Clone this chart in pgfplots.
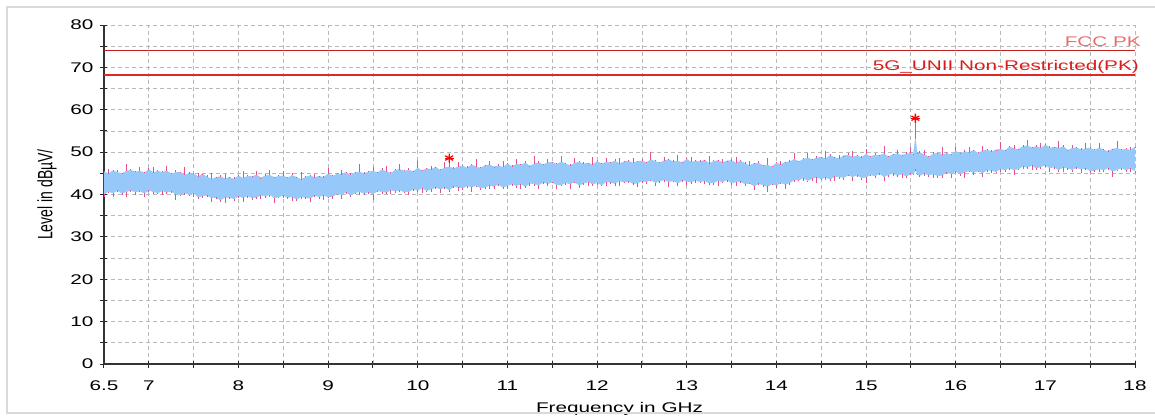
\documentclass[border=0pt]{standalone}
\usepackage{fontspec}
\setmainfont{Liberation Sans}
\usepackage{graphicx}
\usepackage{pgfplots}
\usepackage{pgfplotstable}
\pgfplotsset{compat=1.18}
\usepgfplotslibrary{fillbetween}

\definecolor{bandblue}{RGB}{150,200,250}
\definecolor{pkpink}{RGB}{228,80,140}
\definecolor{limred}{RGB}{222,40,40}
\definecolor{fcctxt}{RGB}{232,110,110}
\definecolor{unitxt}{RGB}{214,30,30}
\definecolor{gridgray}{RGB}{185,185,185}

\newcommand{\fs}{\fontsize{14}{16}\selectfont}
\newcommand{\sx}[1]{\scalebox{1.48}[1]{#1}}
\newcommand{\sy}[1]{\scalebox{1}[1.48]{#1}}

% trace envelopes: x (GHz), blue low/high, pink low/high (dBuV)
\pgfplotstableread{
x bl bh pl ph
6.50 40.1 45.3 39.5 45.6
6.55 40.7 44.9 40.4 46.1
6.60 40.4 45.6 39.5 45.8
6.65 41.0 45.2 40.6 45.7
6.70 40.3 44.9 39.8 45.0
6.75 40.7 45.5 39.4 47.3
6.80 41.0 45.7 40.7 46.0
6.85 40.6 45.3 40.0 45.5
6.90 40.9 45.5 40.5 46.4
6.95 40.3 45.1 39.3 45.2
7.00 41.0 45.9 40.5 46.3
7.05 40.7 45.1 40.1 46.5
7.10 40.4 45.5 40.1 45.7
7.15 40.9 45.2 40.0 45.5
7.20 40.5 45.6 40.1 46.8
7.25 40.8 44.8 40.3 45.0
7.30 40.1 45.2 38.8 45.7
7.35 40.0 45.2 39.7 45.3
7.40 40.4 44.6 39.8 46.4
7.45 40.0 44.9 39.6 45.2
7.50 40.4 44.9 39.4 45.1
7.55 39.4 44.2 38.9 45.1
7.60 39.7 44.8 39.1 44.9
7.65 39.8 44.1 39.5 44.5
7.70 39.2 43.6 38.3 45.0
7.75 39.3 44.0 38.9 44.2
7.80 38.7 44.2 38.2 44.5
7.85 39.4 43.7 38.1 44.9
7.90 39.3 44.0 39.0 44.2
7.95 39.0 43.6 38.4 44.1
8.00 39.6 44.4 39.2 44.5
8.05 39.3 43.8 38.3 45.6
8.10 39.7 44.3 39.2 44.6
8.15 39.2 44.2 38.6 44.4
8.20 39.3 44.6 39.0 45.5
8.25 39.9 43.9 39.0 44.0
8.30 39.6 44.4 39.2 44.8
8.35 40.0 44.5 39.5 45.9
8.40 39.2 44.0 37.9 44.2
8.45 39.5 44.3 39.2 44.6
8.50 39.8 44.4 39.2 45.6
8.55 39.3 43.9 38.9 44.1
8.60 39.5 44.5 38.5 45.0
8.65 38.9 44.0 38.4 44.1
8.70 39.5 43.5 38.9 45.3
8.75 39.3 44.1 39.0 44.4
8.80 39.1 44.4 38.2 44.6
8.85 39.8 44.0 39.4 44.9
8.90 39.5 44.3 39.0 44.4
8.95 39.9 44.0 38.6 44.4
9.00 39.4 44.9 39.1 46.3
9.05 39.6 44.3 39.0 44.5
9.10 40.2 44.8 39.8 45.1
9.15 40.0 44.7 39.0 45.9
9.20 40.6 45.2 40.1 45.4
9.25 39.9 44.5 39.3 45.0
9.30 40.4 45.1 40.1 45.2
9.35 40.7 45.3 39.8 47.1
9.40 40.3 44.9 39.9 45.2
9.45 40.6 45.3 40.1 45.5
9.50 40.1 45.5 38.8 46.4
9.55 40.9 45.1 40.6 45.2
9.60 40.7 45.8 40.1 46.2
9.65 40.5 45.4 40.1 46.8
9.70 41.1 45.0 40.1 45.2
9.75 40.8 45.7 40.3 46.0
9.80 41.1 45.9 40.5 47.1
9.85 40.6 45.5 40.3 45.7
9.90 40.7 45.7 39.8 46.2
9.95 41.3 45.4 40.9 45.5
10.00 41.0 46.2 40.5 48.0
10.05 41.6 45.6 40.3 45.9
10.10 40.9 46.1 40.6 46.3
10.15 41.3 45.9 40.7 46.8
10.20 41.7 46.4 41.3 46.5
10.25 41.3 45.7 40.3 46.1
10.30 41.7 46.3 41.2 47.7
10.35 41.1 46.5 40.5 47.5
10.40 41.9 46.1 41.6 46.4
10.45 41.7 46.5 40.8 47.7
10.50 41.5 46.7 41.1 46.9
10.55 42.1 46.2 41.6 46.7
10.60 41.8 47.0 40.5 47.1
10.65 42.1 46.5 41.8 48.3
10.70 41.6 46.2 41.0 46.5
10.75 41.7 46.8 41.3 47.0
10.80 42.2 47.0 41.2 47.9
10.85 41.9 46.5 41.4 46.6
10.90 42.5 46.8 41.9 47.2
10.95 41.7 46.4 41.4 47.8
11.00 42.1 47.2 41.2 47.4
11.05 42.5 46.6 42.1 46.9
11.10 42.1 47.1 41.6 48.3
11.15 42.5 47.0 41.2 47.2
11.20 41.9 47.4 41.6 47.9
11.25 42.7 46.7 42.1 46.8
11.30 42.5 47.2 42.1 49.0
11.35 42.3 47.5 41.3 47.8
11.40 42.9 47.0 42.4 47.2
11.45 42.6 47.5 42.0 48.4
11.50 42.9 47.6 42.6 47.7
11.55 42.3 47.1 41.4 47.5
11.60 42.3 47.7 41.9 49.1
11.65 42.8 47.2 42.3 47.4
11.70 42.5 46.8 41.2 47.1
11.75 43.0 47.4 42.7 48.6
11.80 42.2 47.6 41.6 47.8
11.85 42.7 47.2 42.3 47.7
11.90 43.0 47.4 42.0 47.5
11.95 42.5 47.0 42.0 48.8
12.00 42.8 47.8 42.2 48.1
12.05 42.3 47.2 42.0 47.4
12.10 43.0 47.6 42.1 48.5
12.15 42.9 47.5 42.5 47.6
12.20 42.6 47.9 42.1 48.3
12.25 43.3 47.2 42.0 48.6
12.30 42.9 47.7 42.6 47.9
12.35 43.2 47.9 42.6 48.2
12.40 42.6 47.4 42.2 48.6
12.45 42.7 47.8 41.7 48.0
12.50 43.2 47.9 42.7 48.4
12.55 43.0 47.5 42.4 47.6
12.60 43.5 48.2 43.2 50.0
12.65 42.8 47.8 41.9 48.1
12.70 43.2 47.4 42.8 47.6
12.75 43.5 48.0 43.0 48.9
12.80 43.0 48.2 41.7 48.3
12.85 43.3 47.7 43.0 48.1
12.90 42.7 47.9 42.1 49.3
12.95 43.4 47.5 43.0 47.7
13.00 43.2 48.3 42.2 48.6
13.05 42.9 47.6 42.4 48.8
13.10 43.4 47.9 42.8 48.1
13.15 43.0 47.7 42.7 48.2
13.20 43.3 48.1 42.4 48.2
13.25 42.7 47.3 42.3 49.1
13.30 42.8 47.8 42.3 48.1
13.35 43.3 48.0 42.0 48.2
13.40 43.0 47.5 42.7 48.4
13.45 43.5 47.9 42.9 48.0
13.50 42.7 48.0 42.3 48.4
13.55 43.0 47.4 42.0 48.8
13.60 43.1 47.9 42.6 48.1
13.65 42.5 47.3 41.9 47.6
13.70 42.7 46.8 42.4 48.0
13.75 42.0 47.3 41.1 47.5
13.80 42.6 47.4 42.2 47.9
13.85 42.3 46.8 41.8 46.9
13.90 41.9 46.9 40.6 48.7
13.95 42.5 46.5 42.2 46.8
14.00 42.2 47.4 41.6 47.6
14.05 42.8 47.0 42.4 47.9
14.10 42.4 47.6 41.4 47.7
14.15 42.8 47.7 42.3 48.1
14.20 43.5 48.3 42.9 49.7
14.25 43.4 47.7 43.1 47.9
14.30 44.0 48.3 43.1 48.6
14.35 43.3 48.6 42.9 49.8
14.40 43.8 48.2 43.3 48.4
14.45 44.1 48.6 42.8 49.1
14.50 43.7 48.8 43.4 48.9
14.55 44.1 48.4 43.5 50.2
14.60 43.6 49.2 43.2 49.5
14.65 44.3 48.7 43.3 48.9
14.70 44.2 48.4 43.7 49.3
14.75 44.0 49.1 43.4 49.2
14.80 44.6 49.3 44.3 49.7
14.85 44.2 48.8 43.3 50.2
14.90 44.6 49.1 44.2 49.3
14.95 44.0 48.7 43.5 49.0
15.00 44.1 49.5 42.8 50.7
15.05 44.7 48.9 44.4 49.1
15.10 44.4 49.3 43.8 49.8
15.15 45.0 49.2 44.6 49.3
15.20 44.2 49.6 43.2 51.4
15.25 44.7 48.9 44.2 49.2
15.30 45.0 49.4 44.4 49.6
15.35 44.5 49.6 44.2 50.5
15.40 44.9 49.2 44.0 49.3
15.45 44.3 49.6 43.9 50.0
15.50 45.0 49.7 44.5 51.1
15.53 44.8 49.5 44.5 49.6
15.55 46.0 53.0 45.6 57.8
15.57 44.9 49.6 44.6 49.8
15.60 44.5 49.9 44.2 50.2
15.65 45.0 49.3 44.4 50.5
15.70 44.6 48.9 44.2 49.1
15.75 44.9 49.5 43.9 50.0
15.80 44.4 49.8 43.9 49.9
15.85 44.6 49.4 44.0 51.2
15.90 45.2 49.7 44.9 50.0
15.95 44.9 49.3 44.0 49.5
16.00 45.5 50.2 45.1 51.1
16.05 44.8 49.6 44.3 49.7
16.10 45.3 50.1 44.0 50.5
16.15 45.6 49.9 45.3 51.3
16.20 45.2 50.4 44.6 50.6
16.25 45.6 49.7 45.2 50.0
16.30 45.1 50.3 44.1 51.5
16.35 45.8 50.5 45.3 50.7
16.40 45.7 50.1 45.1 50.6
16.45 45.4 50.5 45.1 50.6
16.50 46.1 50.7 45.2 52.5
16.55 45.8 50.3 45.4 50.6
16.60 46.3 51.2 45.8 51.4
16.65 45.8 50.8 44.5 51.7
16.70 46.1 50.6 45.8 50.7
16.75 46.7 51.3 46.1 51.7
16.80 46.4 51.5 46.0 52.9
16.85 46.9 51.0 45.9 51.2
16.90 46.2 51.3 45.7 51.6
16.95 46.6 50.9 46.0 52.1
17.00 46.9 51.7 46.6 51.9
17.05 46.3 50.9 45.4 51.4
17.10 46.5 51.2 46.1 51.3
17.15 45.8 50.9 45.3 52.7
17.20 46.5 51.3 45.2 51.6
17.25 46.2 50.4 45.9 50.6
17.30 45.9 50.9 45.3 51.8
17.35 46.4 51.0 46.0 51.1
17.40 46.0 50.5 45.0 50.9
17.45 46.2 50.8 45.7 52.2
17.50 45.6 50.9 45.0 51.1
17.55 45.7 50.4 45.4 50.7
17.60 46.1 51.0 45.2 52.2
17.65 45.8 50.5 45.4 50.7
17.70 46.3 50.1 45.8 50.6
17.75 45.5 50.7 44.2 50.8
17.80 45.9 50.9 45.6 52.7
17.85 46.3 50.5 45.7 50.8
17.90 45.8 50.7 45.4 50.9
17.95 46.2 50.4 45.2 51.3
18.00 45.6 51.2 45.1 51.3
}\trace

\begin{document}
\begin{tikzpicture}
\begin{axis}[
    at={(0pt,0pt)}, anchor=south west,
    scale only axis, width=1031pt, height=339pt,
    xmin=6.5, xmax=18, ymin=0, ymax=80,
    clip=false,
    axis x line*=bottom, axis y line*=left,
    axis line style={black!80, line width=1.1pt},
    xtick={6.5,7,8,9,10,11,12,13,14,15,16,17,18},
    minor xtick={7.5,8.5,9.5,10.5,11.5,12.5,13.5,14.5,15.5,16.5,17.5},
    ytick={0,10,...,80},
    minor ytick={5,15,...,75},
    grid=both,
    major grid style={gridgray, dash pattern=on 4pt off 3pt, line width=0.8pt},
    minor grid style={gridgray, dash pattern=on 4pt off 3pt, line width=0.8pt},
    tick align=center, major tick length=7pt, minor tick length=7pt,
    tick style={black!85, line width=1pt},
    /pgf/number format/assume math mode=true,
    xticklabel={\sx{\pgfmathprintnumber{\tick}}},
    yticklabel={\sx{\pgfmathprintnumber{\tick}}},
    xticklabel style={font=\fs, anchor=base, inner sep=0pt, yshift=-23pt},
    yticklabel style={font=\fs, anchor=east, inner sep=0pt, xshift=-7pt},
    xlabel={\sx{Frequency in GHz}},
    xlabel style={font=\fs, at={(axis description cs:0.5,-0.1416)}, anchor=base, inner sep=0pt},
    ylabel={\sy{Level in dBµV/}},
    ylabel style={font=\fs, at={(axis description cs:-0.0553,0.5)}, anchor=center, inner sep=0pt},
  ]
  % average trace band (blue)
  \addplot[draw=none, name path=lo, forget plot] table[x=x, y=bl] {\trace};
  \addplot[draw=none, name path=hi, forget plot] table[x=x, y=bh] {\trace};
  \addplot[fill=bandblue, draw=none, forget plot] fill between[of=hi and lo];
  \addplot[bandblue, line width=0.6pt, forget plot] table[x=x, y=bh] {\trace};
  \addplot[bandblue, line width=0.6pt, forget plot] table[x=x, y=bl] {\trace};

  % peak trace (pink): only the parts that stand out of the blue band
  \addplot[draw=none, forget plot,
    error bars/.cd, y dir=plus, y explicit, error mark=none,
    error bar style={draw=pkpink, line width=0.8pt, solid}]
    table[x=x, y=bh, y error plus expr=\thisrow{ph}-\thisrow{bh}] {\trace};
  \addplot[draw=none, forget plot,
    error bars/.cd, y dir=minus, y explicit, error mark=none,
    error bar style={draw=pkpink, line width=0.8pt, solid}]
    table[x=x, y=bl, y error minus expr=\thisrow{bl}-\thisrow{pl}] {\trace};

  % limit lines
  \addplot[limred!85!black, line width=1.3pt] coordinates {(6.5,74) (18,74)};
  \addplot[limred, line width=1.3pt] coordinates {(6.5,68.2) (18,68.2)};

  % peak markers
  \addplot[only marks, mark=asterisk, mark size=4.5pt, red, line width=1.3pt]
    coordinates {(10.35,48.6) (15.55,58.0)};
  \addplot[only marks, mark=+, mark size=4.5pt, red, line width=1.1pt]
    coordinates {(10.35,48.6) (15.55,58.0)};

  \node[anchor=base east, inner sep=0pt, xshift=6pt, yshift=4pt, text=fcctxt, font=\fs]
    at (axis cs:18,74) {\sx{FCC PK}};
  \node[anchor=base east, inner sep=0pt, xshift=4pt, yshift=4.5pt, text=unitxt, font=\fs]
    at (axis cs:18,68.2) {\sx{5G\_UNII Non-Restricted(PK)}};
\end{axis}
\draw[gray!30, line width=2pt] (1060pt,357pt) -- (-97pt,357pt) -- (-97pt,-49pt) -- (1060pt,-49pt);
\pgfresetboundingbox
\path[use as bounding box] (-104pt,-51pt) rectangle (1051pt,364pt);
\end{tikzpicture}
\end{document}
